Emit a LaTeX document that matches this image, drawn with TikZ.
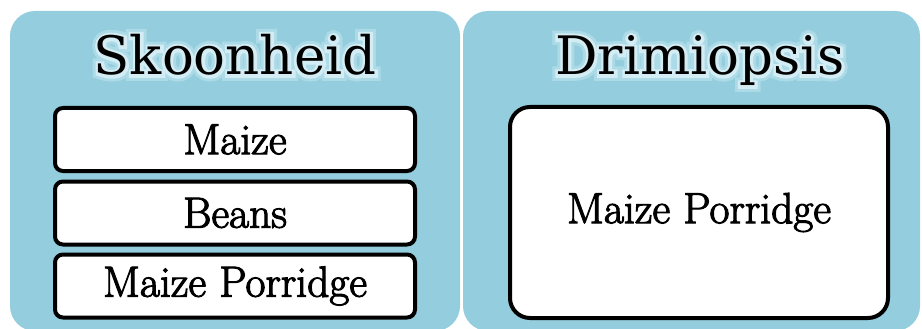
\documentclass[tikz,border=0pt]{standalone}
\usepackage{fontspec}
\newfontfamily\titlefont{DejaVu Serif}
\newfontfamily\glowfontA{DejaVu Serif}[FakeBold=22]
\newfontfamily\glowfontB{DejaVu Serif}[FakeBold=11]
\newfontfamily\boxfont{Latin Modern Roman}[FakeBold=2.5]
\definecolor{panelblue}{RGB}{148,205,221}
\definecolor{glowa}{RGB}{172,218,231}
\definecolor{glowb}{RGB}{212,237,244}
\tikzset{
  panel/.style={fill=panelblue, draw=none, rounded corners=25pt},
  itembox/.style={draw=black, fill=white, line width=4pt, rounded corners=8pt,
    minimum width=360pt, minimum height=63pt, inner sep=0pt,
    font=\boxfont\fontsize{43.5}{48}\selectfont},
  bigbox/.style={itembox, minimum width=378pt, minimum height=211pt, rounded corners=20pt},
  titletext/.style={anchor=base, inner sep=0pt, font=\titlefont\fontsize{53}{60}\selectfont},
  glowtextA/.style={anchor=base, inner sep=0pt, text=glowa,
    font=\glowfontA\fontsize{53}{60}\selectfont},
  glowtextB/.style={anchor=base, inner sep=0pt, text=glowb,
    font=\glowfontB\fontsize{53}{60}\selectfont},
}
\begin{document}
\begin{tikzpicture}[x=1pt,y=-1pt]
\useasboundingbox (0,0) rectangle (922,329);
\fill[panel] (10,11) rectangle (460,331);
\fill[panel] (463,11) rectangle (920,331);
% titles with soft glow
\node[glowtextA] (g1a) at (235,75) {Skoonheid};
\node[glowtextA] (g2a) at (700,75) {Drimiopsis};
\node[glowtextB] (g1b) at (235,75) {Skoonheid};
\node[glowtextB] (g2b) at (700,75) {Drimiopsis};
\node[titletext] (t1) at (235,75) {Skoonheid};
\node[titletext] (t2) at (700,75) {Drimiopsis};
% boxes
\node[itembox] (b1) at (235,139.5) {Maize};
\node[itembox] (b2) at (235,213) {Beans};
\node[itembox] (b3) at (235,286) {Maize Porridge};
\node[bigbox] (b4) at (699,212.5) {Maize Porridge};
\end{tikzpicture}
\end{document}
